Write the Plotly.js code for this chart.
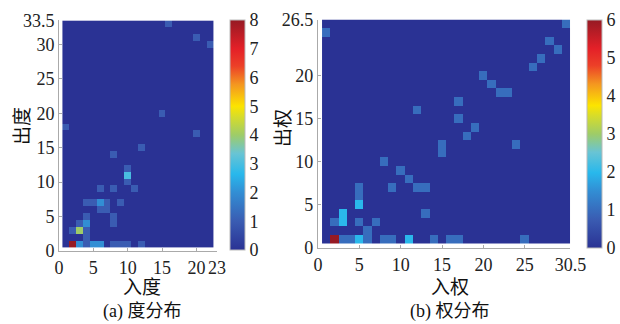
<!DOCTYPE html>
<html><head><meta charset="utf-8">
<script src="https://cdn.plot.ly/plotly-3.0.1.min.js"></script>
<style>html,body{margin:0;padding:0;background:#fff}#chart{width:620px;height:324px}</style>
</head><body><div id="chart"></div>
<script>
// ---- Data: (a) 度分布 (in-degree x, out-degree y, count) ----
const degX = [1,2,3,4,5,6,7,8,9,10,11,12,13,14,15,16,17,18,19,20,21,22];
const degY = [1,2,3,4,5,6,7,8,9,10,11,12,13,14,15,16,17,18,19,20,21,22,23,24,25,26,27,28,29,30,31,32,33];
const degCellX = [2,3,4,5,6,8,9,10,12, 4, 2,3,4, 3,4,8, 4,8, 6,7, 4,5,6,7,9, 6,8,11, 10,10,10, 8,12,20,1,15,22,20,16];
const degCellY = [1,1,1,1,1,1,1,1,1, 2, 3,3,3, 4,4,4, 5,5, 6,6, 7,7,7,7,7, 9,9,9, 10,11,12, 14,15,17,18,20,30,31,33];
const degCellV = [8,2,1,2,2,1,1,1,1, 1, 1,4,1, 1,2,1, 1,1, 1,1, 1,1,2,1,1, 1,1,1, 1,3,1, 1,1,1,1,1,1,1,1];

// ---- Data: (b) 权分布 (in-weight x, out-weight y, count) ----
const wX = [1,2,3,4,5,6,7,8,9,10,11,12,13,14,15,16,17,18,19,20,21,22,23,24,25,26,27,28,29,30];
const wY = [1,2,3,4,5,6,7,8,9,10,11,12,13,14,15,16,17,18,19,20,21,22,23,24,25,26];
const wCellX = [2,3,4,5,6,8,9,11,14,16,17,25, 6, 2,3,5,7, 3,13, 5, 5, 5,9,12,13, 11,10,8, 15,15,24, 18,19,17,12,17, 22,23,21,20,26,27,29,28,1,30];
const wCellY = [1,1,1,1,1,1,1,1,1,1,1,1, 2, 3,3,3,3, 4,4, 5, 6, 7,7,7,7, 8,9,10, 11,12,12, 13,14,15,16,17, 18,18,19,20,21,22,23,24,25,26];
const wCellV = [6,1,1,2,1,1,1,2,1,1,1,1, 1, 1,2,1,1, 2,1, 2, 1, 1,1,1,1, 1,1,1, 1,1,1, 1,1,1,1,1, 1,1,1,1,1,1,1,1,1,1];

// tick labels
const degXTicks = [0,5,10,15,20,23];
const degYTicks = [0,5,10,15,20,25,30,33.5];
const wXTicks = [0,5,10,15,20,25,30.5];
const wYTicks = [0,5,10,15,20,26.5];
const degCbTicks = [0,1,2,3,4,5,6,7,8];
const wCbTicks = [0,1,2,3,4,5,6];

function buildZ(xs, ys, cx, cy, cv) {
  const z = ys.map(() => xs.map(() => 0));
  for (let i = 0; i < cv.length; i++) {
    z[ys.indexOf(cy[i])][xs.indexOf(cx[i])] = cv[i];
  }
  return z;
}

const cscale = [
  [0.0, 'rgb(42,50,148)'],
  [0.125, 'rgb(58,92,178)'],
  [0.25, 'rgb(50,142,212)'],
  [0.33, 'rgb(40,184,236)'],
  [0.42, 'rgb(105,196,212)'],
  [0.5, 'rgb(158,204,104)'],
  [0.58, 'rgb(215,220,42)'],
  [0.625, 'rgb(252,228,0)'],
  [0.72, 'rgb(244,150,32)'],
  [0.8, 'rgb(236,64,40)'],
  [0.875, 'rgb(228,32,40)'],
  [1.0, 'rgb(150,26,36)']
];

const serif = 'Liberation Serif, serif';
const cjk = 'Liberation Serif, Noto Sans CJK SC, serif';
const tickFont = {family: serif, size: 18, color: '#222'};

const traces = [
  {
    type: 'heatmap', x: degX, y: degY,
    z: buildZ(degX, degY, degCellX, degCellY, degCellV),
    zmin: 0, zmax: 8, colorscale: cscale, xaxis: 'x', yaxis: 'y', zsmooth: false,
    colorbar: {x: 230/620, xanchor: 'left', y: (324-135)/324, yanchor: 'middle', len: 230/324,
      thickness: 15, thicknessmode: 'pixels', lenmode: 'fraction', xpad: 0, ypad: 0,
      outlinewidth: 1, outlinecolor: '#bbb', tickvals: degCbTicks, ticks: '',
      tickfont: tickFont}
  },
  {
    type: 'heatmap', x: wX, y: wY,
    z: buildZ(wX, wY, wCellX, wCellY, wCellV),
    zmin: 0, zmax: 6, colorscale: cscale, xaxis: 'x2', yaxis: 'y2', zsmooth: false,
    colorbar: {x: 587/620, xanchor: 'left', y: (324-134)/324, yanchor: 'middle', len: 228/324,
      thickness: 15, thicknessmode: 'pixels', lenmode: 'fraction', xpad: 0, ypad: 0,
      outlinewidth: 1, outlinecolor: '#bbb', tickvals: wCbTicks, ticks: '',
      tickfont: tickFont}
  }
];

const axBase = {showgrid: false, zeroline: false, showline: true, linecolor: '#aaa', linewidth: 1,
  ticks: 'inside', ticklen: 3, tickcolor: '#aaa', tickfont: tickFont, fixedrange: true,
  tickangle: 0, automargin: false};

function ann(text, xpx, ypx, size, angle) {
  return {text: text, x: xpx/620, y: (324-ypx)/324, xref: 'paper', yref: 'paper',
    xanchor: 'center', yanchor: 'middle', showarrow: false, textangle: angle || 0,
    font: {family: cjk, size: size, color: '#111'}};
}

const layout = {
  width: 620, height: 324, margin: {l: 0, r: 0, t: 0, b: 0},
  paper_bgcolor: '#fff', plot_bgcolor: '#fff', showlegend: false,
  xaxis: Object.assign({}, axBase, {domain: [59/620, 217/620], range: [0, 23], anchor: 'y',
    tickvals: degXTicks, ticktext: degXTicks.map(String)}),
  yaxis: Object.assign({}, axBase, {domain: [(324-250.9)/324, (324-20.4)/324], range: [0, 33.5], anchor: 'x',
    tickvals: degYTicks, ticktext: degYTicks.map(String)}),
  xaxis2: Object.assign({}, axBase, {domain: [317.9/620, 570.4/620], range: [0, 30.5], anchor: 'y2',
    tickvals: wXTicks, ticktext: wXTicks.map(String)}),
  yaxis2: Object.assign({}, axBase, {domain: [(324-248)/324, (324-19.5)/324], range: [0, 26.5], anchor: 'x2',
    tickvals: wYTicks, ticktext: wYTicks.map(String)}),
  annotations: [
    ann('入度', 142, 287, 19),
    ann('出度', 23, 126, 19, -90),
    ann('(a) 度分布', 142, 311, 18),
    ann('入权', 450, 287, 19),
    ann('出权', 283, 128, 19, -90),
    ann('(b) 权分布', 450, 311, 18)
  ]
};

Plotly.newPlot('chart', traces, layout, {displayModeBar: false, staticPlot: true});
</script></body></html>
